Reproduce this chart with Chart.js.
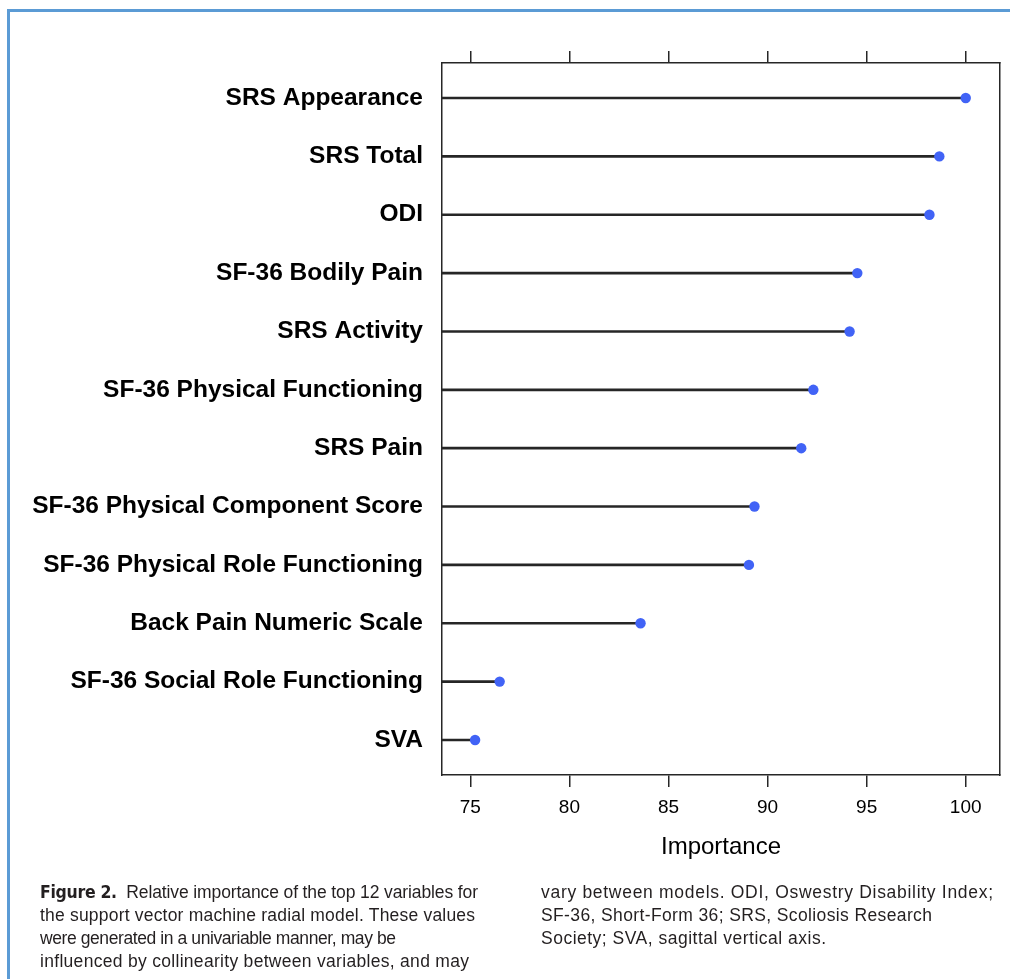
<!DOCTYPE html>
<html>
<head>
<meta charset="utf-8">
<script src="https://cdn.jsdelivr.net/npm/chart.js@4.4.1/dist/chart.umd.min.js"></script>
<style>
  html, body { margin: 0; padding: 0; background: #ffffff; }
  body { width: 1010px; height: 979px; position: relative; overflow: hidden; }
  #chartBox { position: absolute; left: 0; top: 0; width: 1010px; height: 979px; }
  .frame-top { position: absolute; left: 7px; top: 9px; width: 1003px; height: 3px; background: #5b9bd5; }
  .frame-left { position: absolute; left: 7px; top: 9px; width: 3px; height: 970px; background: #5b9bd5; }
  .cap { position: absolute; white-space: nowrap; font-family: "Liberation Sans", Arial, sans-serif;
         font-size: 17.5px; color: #231f20; line-height: 23px; }
  .cap b { font-family: "Liberation Sans Narrow", "DejaVu Sans Condensed", "Liberation Sans", sans-serif; font-weight: bold; letter-spacing: -0.3px; }
</style>
</head>
<body>
<div id="chartBox"><canvas id="chart" width="1010" height="979"></canvas></div>
<div class="frame-top"></div>
<div class="frame-left"></div>

<div class="cap" data-w="437" style="left:40px; top:881px;"><b>Figure 2.</b>&nbsp; Relative importance of the top 12 variables for</div>
<div class="cap" data-w="435" style="left:40px; top:904px;">the support vector machine radial model. These values</div>
<div class="cap" data-w="356" style="left:40px; top:927px;">were generated in a univariable manner, may be</div>
<div class="cap" data-w="429" style="left:40px; top:950px;">influenced by collinearity between variables, and may</div>
<div class="cap" data-w="452" style="left:541px; top:881px;">vary between models. ODI, Oswestry Disability Index;</div>
<div class="cap" data-w="391" style="left:541px; top:904px;">SF-36, Short-Form 36; SRS, Scoliosis Research</div>
<div class="cap" data-w="285" style="left:541px; top:927px;">Society; SVA, sagittal vertical axis.</div>

<script>
// Caption lines: spread letters so each line fills its column width
document.querySelectorAll(".cap").forEach(el => {
  const want = Number(el.dataset.w);
  const have = el.getBoundingClientRect().width;
  const n = el.textContent.length;
  if (n > 1) el.style.letterSpacing = ((want - have) / (n - 1)).toFixed(3) + "px";
});

// Variables, ordered from most to least important (top to bottom)
const variables = [
  "SRS Appearance",
  "SRS Total",
  "ODI",
  "SF-36 Bodily Pain",
  "SRS Activity",
  "SF-36 Physical Functioning",
  "SRS Pain",
  "SF-36 Physical Component Score",
  "SF-36 Physical Role Functioning",
  "Back Pain Numeric Scale",
  "SF-36 Social Role Functioning",
  "SVA"
];

// Relative importance of each variable
const importance = [100.0, 98.67, 98.17, 94.53, 94.14, 92.31, 91.70, 89.34, 89.06, 83.59, 76.48, 75.24];

// Importance axis ticks and limits
const xTicks = [75, 80, 85, 90, 95, 100];
const xMin = 73.57;
const xMax = 101.73;

// Row positions: 1 = top row, with 0.6 of a row spare at each end
const rowPos = variables.map((_, i) => i + 1);
const yMin = 0.4;
const yMax = variables.length + 0.6;

const ink = "#262626";
const dotBlue = "#4163f6";

const stems = variables.map((_, i) => ({ y: rowPos[i], x: [xMin, importance[i]] }));
const dots = variables.map((_, i) => ({ y: rowPos[i], x: importance[i] }));

const setTicks = values => axis => { axis.ticks = values.map(v => ({ value: v })); };

new Chart(document.getElementById("chart"), {
  data: {
    datasets: [
      {
        type: "scatter",
        data: dots,
        order: 0,
        pointRadius: 5.2,
        pointHoverRadius: 5.2,
        pointBackgroundColor: dotBlue,
        pointBorderWidth: 0,
        xAxisID: "x",
        yAxisID: "y"
      },
      {
        type: "bar",
        data: stems,
        order: 1,
        indexAxis: "y",
        barThickness: 2,
        backgroundColor: ink,
        borderWidth: 0,
        xAxisID: "x",
        yAxisID: "y"
      }
    ]
  },
  options: {
    responsive: false,
    animation: false,
    events: [],
    indexAxis: "y",
    layout: { padding: { left: 0, top: 0, right: 10, bottom: 0 } },
    plugins: { legend: { display: false }, tooltip: { enabled: false } },
    scales: {
      x: {
        type: "linear",
        position: "bottom",
        min: xMin,
        max: xMax,
        offset: false,
        afterBuildTicks: setTicks(xTicks),
        afterFit: s => { s.height = 204; },
        grid: { display: true, drawOnChartArea: false, drawTicks: true, tickLength: 12, color: ink, lineWidth: 1.5 },
        border: { display: true, color: ink, width: 1.5 },
        ticks: { padding: 9, color: "#000", font: { family: "'Liberation Sans', Arial, sans-serif", size: 19 }, maxRotation: 0 },
        title: {
          display: true,
          text: "Importance",
          color: "#000",
          font: { family: "'Liberation Sans', Arial, sans-serif", size: 24 },
          padding: { top: 0, bottom: 117 }
        }
      },
      xTop: {
        type: "linear",
        position: "top",
        min: xMin,
        max: xMax,
        offset: false,
        afterBuildTicks: setTicks(xTicks),
        afterFit: s => { s.height = 63; },
        grid: { display: true, drawOnChartArea: false, drawTicks: true, tickLength: 12, color: ink, lineWidth: 1.5 },
        border: { display: true, color: ink, width: 1.5 },
        ticks: { display: false }
      },
      y: {
        type: "linear",
        position: "left",
        reverse: true,
        offset: false,
        min: yMin,
        max: yMax,
        afterBuildTicks: setTicks(rowPos),
        afterFit: s => { s.width = 442; },
        grid: { display: false, drawTicks: false },
        border: { display: true, color: ink, width: 1.5 },
        ticks: {
          padding: 19,
          color: "#000",
          font: { family: "'Liberation Sans', Arial, sans-serif", size: 24.5, weight: "bold" },
          callback: v => variables[v - 1]
        }
      },
      yRight: {
        type: "linear",
        position: "right",
        afterFit: s => { s.width = 0; },
        grid: { display: false, drawTicks: false },
        border: { display: true, color: ink, width: 1.5 },
        ticks: { display: false }
      }
    }
  }
});
</script>
</body>
</html>
